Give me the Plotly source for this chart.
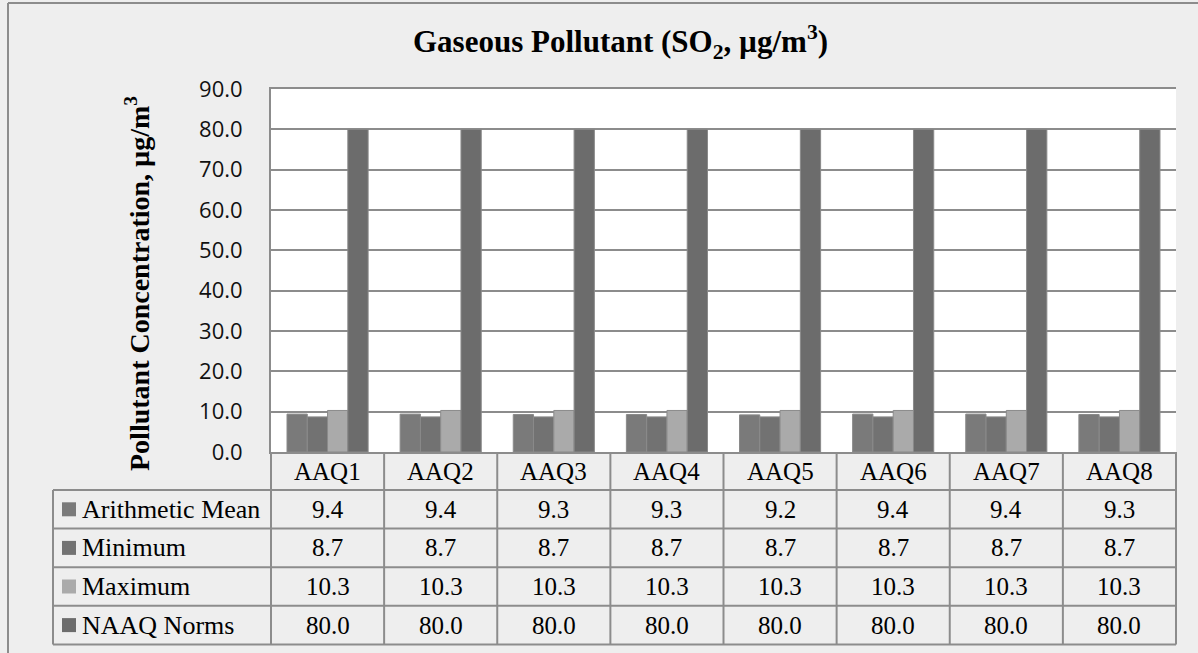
import plotly.graph_objects as go

categories = ["AAQ1", "AAQ2", "AAQ3", "AAQ4", "AAQ5", "AAQ6", "AAQ7", "AAQ8"]
series_names = ["Arithmetic Mean", "Minimum", "Maximum", "NAAQ Norms"]
arithmetic_mean = [9.4, 9.4, 9.3, 9.3, 9.2, 9.4, 9.4, 9.3]
minimum = [8.7, 8.7, 8.7, 8.7, 8.7, 8.7, 8.7, 8.7]
maximum = [10.3, 10.3, 10.3, 10.3, 10.3, 10.3, 10.3, 10.3]
naaq_norms = [80.0, 80.0, 80.0, 80.0, 80.0, 80.0, 80.0, 80.0]
y_ticks = [0, 10, 20, 30, 40, 50, 60, 70, 80, 90]

series_values = [arithmetic_mean, minimum, maximum, naaq_norms]
colors = ["#7a7a7a", "#727272", "#aaaaaa", "#6c6c6c"]

W_FIG, H_FIG = 1198, 653
L, R, T, B = 271, 1176, 89, 452
PW, PH = R - L, B - T
GRID = "#8c8c8c"
BG = "#eeeeee"
SERIF = "Liberation Serif, Times New Roman, serif"
TXT = 25


def px_x(p):
    return (p - L) / PW


def px_y(p):
    return (B - p) / PH


fig = go.Figure()
for name, vals, col in zip(series_names, series_values, colors):
    fig.add_trace(go.Bar(
        x=categories, y=vals, name=name,
        marker=dict(color=col, line=dict(color="#8a8a8a", width=1)),
        showlegend=False,
    ))

shapes = []
annotations = []

# outer frame (cut at right and bottom)
shapes.append(dict(type="line", xref="paper", yref="paper",
                   x0=px_x(8), x1=px_x(W_FIG + 10), y0=px_y(3), y1=px_y(3),
                   line=dict(color=GRID, width=2)))
shapes.append(dict(type="line", xref="paper", yref="paper",
                   x0=px_x(8), x1=px_x(8), y0=px_y(3), y1=px_y(H_FIG + 10),
                   line=dict(color=GRID, width=2)))

# data table geometry
row_h = 38.6
cat_top = B
cat_bot = 490
row_tops = [cat_bot + i * row_h for i in range(len(series_names) + 1)]
table_left = 53
ncat = len(categories)

for yt in row_tops:
    shapes.append(dict(type="line", xref="paper", yref="paper",
                       x0=px_x(table_left), x1=1, y0=px_y(yt), y1=px_y(yt),
                       line=dict(color=GRID, width=2)))
for k in range(ncat + 1):
    shapes.append(dict(type="line", xref="paper", yref="paper",
                       x0=k / ncat, x1=k / ncat, y0=0, y1=px_y(row_tops[-1]),
                       line=dict(color=GRID, width=2)))
shapes.append(dict(type="line", xref="paper", yref="paper",
                   x0=px_x(table_left), x1=px_x(table_left),
                   y0=px_y(row_tops[0]), y1=px_y(row_tops[-1]),
                   line=dict(color=GRID, width=2)))

for c in categories:
    annotations.append(dict(x=c, xref="x", y=px_y((cat_top + cat_bot) / 2), yref="paper",
                            text=c, showarrow=False, xanchor="center", yanchor="middle",
                            font=dict(family=SERIF, size=TXT, color="#000000")))

for i, (name, vals, col) in enumerate(zip(series_names, series_values, colors)):
    yc = row_tops[i] + row_h / 2
    shapes.append(dict(type="rect", xref="paper", yref="paper",
                       x0=px_x(62), x1=px_x(76), y0=px_y(yc - 7), y1=px_y(yc + 7),
                       fillcolor=col, line=dict(width=0)))
    annotations.append(dict(x=px_x(80), xref="paper", y=px_y(yc), yref="paper",
                            text=name, showarrow=False, xanchor="left", yanchor="middle",
                            font=dict(family=SERIF, size=TXT + 1, color="#000000")))
    for c, v in zip(categories, vals):
        annotations.append(dict(x=c, xref="x", y=px_y(yc), yref="paper",
                                text=f"{v:.1f}", showarrow=False,
                                xanchor="center", yanchor="middle",
                                font=dict(family=SERIF, size=TXT, color="#000000")))

annotations.append(dict(x=px_x(620), xref="paper", y=px_y(42), yref="paper",
                        text="<b>Gaseous Pollutant (SO<sub>2</sub>, µg/m<sup>3</sup>)</b>",
                        showarrow=False, xanchor="center", yanchor="middle",
                        font=dict(family=SERIF, size=31, color="#000000")))
annotations.append(dict(x=px_x(137), xref="paper", y=px_y(284), yref="paper",
                        text="<b>Pollutant Concentration, µg/m<sup>3</sup></b>",
                        textangle=-90, showarrow=False, xanchor="center", yanchor="middle",
                        font=dict(family=SERIF, size=28, color="#000000")))

fig.update_layout(
    width=W_FIG, height=H_FIG,
    margin=dict(l=L, r=W_FIG - R, t=T, b=H_FIG - B, pad=0),
    paper_bgcolor=BG, plot_bgcolor="#ffffff",
    barmode="group", bargap=0.283, bargroupgap=0,
    shapes=shapes, annotations=annotations,
    xaxis=dict(showticklabels=False, ticks="", showgrid=False,
               showline=True, mirror=True, linecolor=GRID, linewidth=2,
               range=[-0.5, ncat - 0.5]),
    yaxis=dict(range=[0, 90], tickvals=y_ticks, tickformat=".1f",
               showgrid=True, gridcolor=GRID, gridwidth=1.5,
               zeroline=False, showline=True, linecolor=GRID, linewidth=2,
               ticks="outside", ticklen=22, tickcolor="rgba(0,0,0,0)",
               tickfont=dict(family="Open Sans, sans-serif", size=22, color="#111111")),
)

fig.write_html(
    "out.html",
    config={"displayModeBar": False},
    post_script="document.body.style.margin='0';document.body.style.background='#eeeeee';document.body.style.overflow='hidden';",
)
